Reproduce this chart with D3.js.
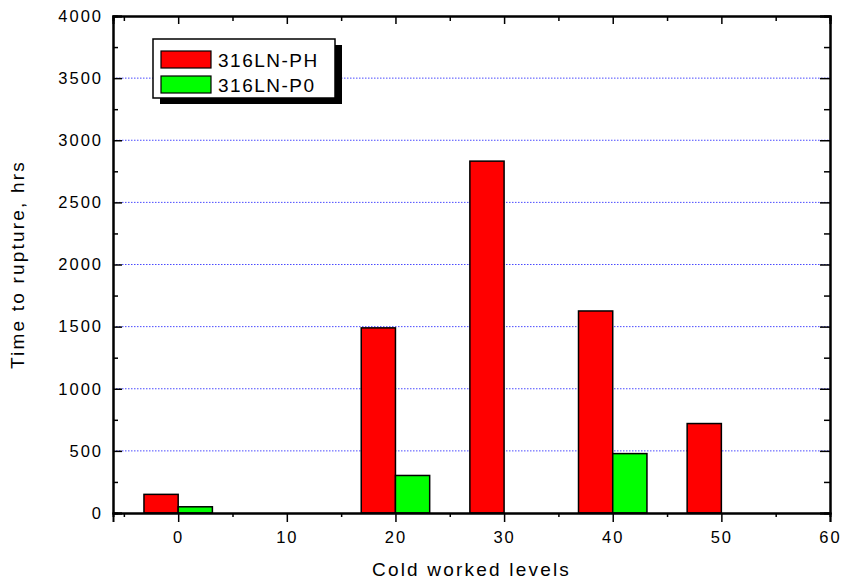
<!DOCTYPE html>
<html>
<head>
<meta charset="utf-8">
<script src="https://cdn.jsdelivr.net/npm/d3@7"></script>
<style>
  body { margin: 0; background: #fff; }
  text { font-family: Arial, "Liberation Sans", sans-serif; fill: #000; }
</style>
</head>
<body>
<div id="chart"></div>
<script>
// data
var levels = [0, 10, 20, 30, 40, 50];
var phValues = [150, null, 1490, 2832, 1626, 720];
var p0Values = [50, null, 302, null, 478, null];
var seriesNames = ["316LN-PH", "316LN-P0"];
var xTicks = [0, 10, 20, 30, 40, 50, 60];
var yTicks = [0, 500, 1000, 1500, 2000, 2500, 3000, 3500, 4000];

var margin = { top: 16, right: 14, bottom: 73, left: 113 },
    width = 844 - margin.left - margin.right,
    height = 586 - margin.top - margin.bottom,
    barW = 3.15;

var svg = d3.select("#chart")
    .append("svg")
    .attr("width", 844)
    .attr("height", 586)
    .append("g")
    .attr("transform", "translate(" + margin.left + "," + margin.top + ")");

var x = d3.scaleLinear().domain([-6, 60]).range([0, width]);
var y = d3.scaleLinear().domain([0, 4000]).range([height, 0]);

// grid lines
svg.append("g")
    .selectAll("line")
    .data(yTicks.filter(function (d) { return d > 0 && d < 4000; }))
    .enter().append("line")
    .attr("x1", 0).attr("x2", width)
    .attr("y1", function (d) { return y(d); })
    .attr("y2", function (d) { return y(d); })
    .attr("stroke", "#4a4aff")
    .attr("stroke-width", 1)
    .attr("stroke-dasharray", "1.5,1.5");

// bars
function drawBars(vals, color, offset) {
    svg.append("g")
        .selectAll("rect")
        .data(levels.map(function (l, i) { return { x: l, v: vals[i] }; })
            .filter(function (d) { return d.v != null; }))
        .enter().append("rect")
        .attr("x", function (d) { return x(d.x + offset); })
        .attr("width", x(barW) - x(0))
        .attr("y", function (d) { return y(d.v); })
        .attr("height", function (d) { return height - y(d.v); })
        .attr("fill", color)
        .attr("stroke", "#000")
        .attr("stroke-width", 1.5);
}
drawBars(phValues, "#ff0000", -barW);
drawBars(p0Values, "#00ff00", 0);

// axes
var minorX = d3.range(-5, 60, 5).filter(function (d) { return d % 10 !== 0; });
var minorY = d3.range(250, 4000, 500);

svg.append("g")
    .attr("transform", "translate(0," + height + ")")
    .call(d3.axisBottom(x).tickValues(xTicks).tickSize(9).tickPadding(9).tickFormat(d3.format("d")));
svg.append("g")
    .attr("transform", "translate(0," + height + ")")
    .call(d3.axisBottom(x).tickValues(minorX).tickSize(4).tickFormat(""));

svg.append("g")
    .call(d3.axisLeft(y).tickValues(yTicks).tickSize(-9).tickPadding(10).tickFormat(d3.format("d")));
svg.append("g")
    .call(d3.axisLeft(y).tickValues(minorY).tickSize(-5).tickFormat(""));

// top and right frame
svg.append("g")
    .call(d3.axisTop(x).tickValues(xTicks).tickSize(-8).tickFormat(""));
svg.append("g")
    .call(d3.axisTop(x).tickValues(minorX).tickSize(-5).tickFormat(""));
svg.append("g")
    .attr("transform", "translate(" + width + ",0)")
    .call(d3.axisRight(y).tickValues(yTicks).tickSize(-10).tickFormat(""));
svg.append("g")
    .attr("transform", "translate(" + width + ",0)")
    .call(d3.axisRight(y).tickValues(minorY).tickSize(-6).tickFormat(""));

svg.selectAll(".domain").attr("stroke", "#000").attr("stroke-width", 2);
svg.selectAll(".tick line").attr("stroke", "#000").attr("stroke-width", 1.5);
svg.selectAll(".tick text")
    .attr("font-size", "16.5px")
    .style("letter-spacing", "2px")
    .attr("font-family", "Arial, 'Liberation Sans', sans-serif");

// axis titles
svg.append("text")
    .attr("text-anchor", "middle")
    .attr("transform", "translate(" + (width / 2) + "," + (height + 63) + ")")
    .attr("font-size", "19px")
    .style("letter-spacing", "2.2px")
    .text("Cold worked levels");

svg.append("text")
    .attr("text-anchor", "middle")
    .attr("transform", "translate(" + (-89) + "," + (height / 2) + ")rotate(-90)")
    .attr("font-size", "19px")
    .style("letter-spacing", "2.2px")
    .text("Time to rupture, hrs");

// legend
var lg = svg.append("g").attr("transform", "translate(" + (153 - margin.left) + "," + (39 - margin.top) + ")");
lg.append("rect").attr("x", 7).attr("y", 6).attr("width", 182).attr("height", 59).attr("fill", "#000");
lg.append("rect").attr("x", 0).attr("y", 0).attr("width", 182).attr("height", 59)
    .attr("fill", "#fff").attr("stroke", "#000").attr("stroke-width", 1.5);
var colors = ["#ff0000", "#00ff00"];
seriesNames.forEach(function (name, i) {
    lg.append("rect")
        .attr("x", 8).attr("y", 12 + i * 25)
        .attr("width", 50).attr("height", 17)
        .attr("fill", colors[i]).attr("stroke", "#000").attr("stroke-width", 1.2);
    lg.append("text")
        .attr("x", 65).attr("y", 28 + i * 25)
        .attr("font-size", "19px")
        .style("letter-spacing", "1.5px")
        .text(name);
});
</script>
</body>
</html>
